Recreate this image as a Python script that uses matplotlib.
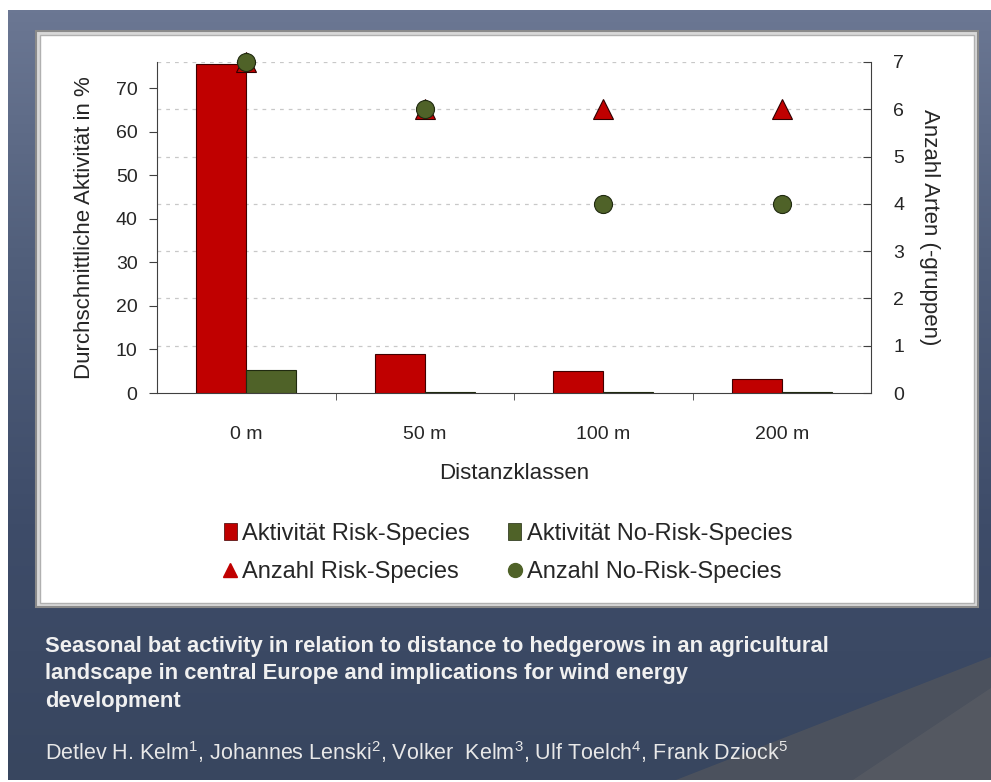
import numpy as np
import matplotlib
matplotlib.use("Agg")
import matplotlib.pyplot as plt
from matplotlib.patches import Rectangle, Polygon, Patch
from matplotlib.colors import LinearSegmentedColormap
from matplotlib.lines import Line2D

plt.rcParams["font.family"] = ["Liberation Sans", "DejaVu Sans"]
plt.rcParams["mathtext.fontset"] = "custom"
plt.rcParams["mathtext.rm"] = "Liberation Sans"
plt.rcParams["mathtext.default"] = "regular"

# data
classes = ["0 m", "50 m", "100 m", "200 m"]
act_risk = [75.5, 9.0, 5.0, 3.2]
act_norisk = [5.2, 0.3, 0.2, 0.2]
n_risk = [7, 6, 6, 6]
n_norisk = [7, 6, 4, 4]

RED = "#c00000"
GREEN = "#4f6228"
TXT = "#262626"

W, H = 991, 782
fig = plt.figure(figsize=(W / 100, H / 100), dpi=100)
fig.patch.set_facecolor("white")

# slide background
bg = fig.add_axes([8 / W, 2 / H, 1 - 8 / W, 1 - 12 / H])
bg.set_axis_off()
cmap = LinearSegmentedColormap.from_list("slide", ["#6b7793", "#505e7a", "#3e4c69", "#38465f"])
grad = np.linspace(0, 1, 256).reshape(-1, 1)
bg.imshow(grad, aspect="auto", cmap=cmap, extent=[0, 1, 0, 1], origin="upper")
bg.add_patch(Polygon([[0.68, 0], [1, 0], [1, 0.16]], closed=True,
                     facecolor="#4e535d", edgecolor="none", alpha=0.9))
bg.add_patch(Polygon([[0.86, 0], [1, 0], [1, 0.12]], closed=True,
                     facecolor="#575b63", edgecolor="none", alpha=0.8))
bg.set_xlim(0, 1); bg.set_ylim(0, 1)

# white chart box
fig.patches.append(Rectangle((36 / W, 1 - 607 / H), 942 / W, 576 / H, transform=fig.transFigure,
                             facecolor="#d8d8d8", edgecolor="#8a8a8a", lw=1.5, zorder=0))
fig.patches.append(Rectangle((40 / W, 1 - 603 / H), 934 / W, 568 / H, transform=fig.transFigure,
                             facecolor="white", edgecolor="#b0b0b0", lw=1, zorder=0))

ax = fig.add_axes([157 / W, 1 - 393 / H, (871 - 157) / W, (393 - 62) / H])
ax.set_facecolor("none")
x = np.arange(len(classes))
bw = 0.28
ymax = 76
right_ticks = list(range(0, 8))
# dashed grid follows the right-hand axis ticks, drawn behind the bars
ax.hlines([t * ymax / 7 for t in right_ticks[1:]], -0.5, 3.5, colors="#c8c8c8",
          linestyles=(0, (3, 4)), lw=0.9, zorder=1)
ax.bar(x - bw / 2, act_risk, bw, color=RED, edgecolor="#400000", lw=0.8, zorder=3)
ax.bar(x + bw / 2, act_norisk, bw, color=GREEN, edgecolor="#202a10", lw=0.8, zorder=3)
ax.set_xlim(-0.5, 3.5)
ax.set_ylim(0, ymax)
ax.set_yticks(range(0, 80, 10))
ax.set_xticks(x)
ax.set_xticklabels(classes)
ax.set_xticks([0.5, 1.5, 2.5], minor=True)
ax.tick_params(axis="x", which="major", length=0, pad=24, labelsize=14, labelcolor=TXT)
ax.tick_params(axis="x", which="minor", length=5, direction="out", color="#404040")
ax.tick_params(axis="y", length=6, direction="out", labelsize=14, color="#404040", pad=8,
               labelcolor=TXT)
for s in ["top", "right"]:
    ax.spines[s].set_visible(False)
ax.spines["left"].set_color("#404040")
ax.spines["bottom"].set_color("#404040")
ax.set_ylabel("Durchschnittliche Aktivität in %", fontsize=16, color=TXT, labelpad=15)
ax.set_xlabel("Distanzklassen", fontsize=16, color=TXT, labelpad=14)

ax2 = ax.twinx()
ax2.set_ylim(0, 7)
ax2.set_yticks(right_ticks)
ax2.tick_params(axis="y", length=6, direction="in", labelsize=14, color="#404040", pad=16,
                labelcolor=TXT)
for s in ["top", "left", "bottom"]:
    ax2.spines[s].set_visible(False)
ax2.spines["right"].set_color("#404040")
ax2.plot(x, n_risk, "^", color=RED, mec="#300000", mew=0.8, ms=15, ls="none", zorder=4, clip_on=False)
ax2.plot(x, n_norisk, "o", color=GREEN, mec="#202a10", mew=0.8, ms=13, ls="none", zorder=5, clip_on=False)
ax2.set_ylabel("Anzahl Arten (-gruppen)", fontsize=16, color=TXT, rotation=270, labelpad=26)
ax2.patch.set_visible(False)
ax.set_zorder(1); ax2.set_zorder(2)

handles = [Patch(facecolor=RED, edgecolor="#400000", lw=0.5),
           Line2D([], [], marker="^", color=RED, ls="none", ms=10),
           Patch(facecolor=GREEN, edgecolor="#202a10", lw=0.5),
           Line2D([], [], marker="o", color=GREEN, ls="none", ms=10)]
labels = ["Aktivität Risk-Species", "Anzahl Risk-Species",
          "Aktivität No-Risk-Species", "Anzahl No-Risk-Species"]
fig.legend(handles, labels, ncol=2, loc="center", bbox_to_anchor=(508 / W, 1 - 553 / H),
           frameon=False, fontsize=17, handlelength=0.55, handletextpad=0.25,
           columnspacing=1.6, labelspacing=0.68, labelcolor=TXT)

# slide caption
fig.text(45 / W, 1 - 636 / H,
         "Seasonal bat activity in relation to distance to hedgerows in an agricultural\n"
         "landscape in central Europe and implications for wind energy\n"
         "development",
         color="#f0f0f0", fontsize=15.8, fontweight="bold", va="top", linespacing=1.4,
         ha="left")
fig.text(45 / W, 1 - 752 / H,
         "Detlev H. Kelm$^1$, Johannes Lenski$^2$, Volker  Kelm$^3$, Ulf Toelch$^4$, Frank Dziock$^5$",
         color="#e8e8e8", fontsize=15.5, va="center", ha="left")

fig.savefig("out.png", dpi=100)
